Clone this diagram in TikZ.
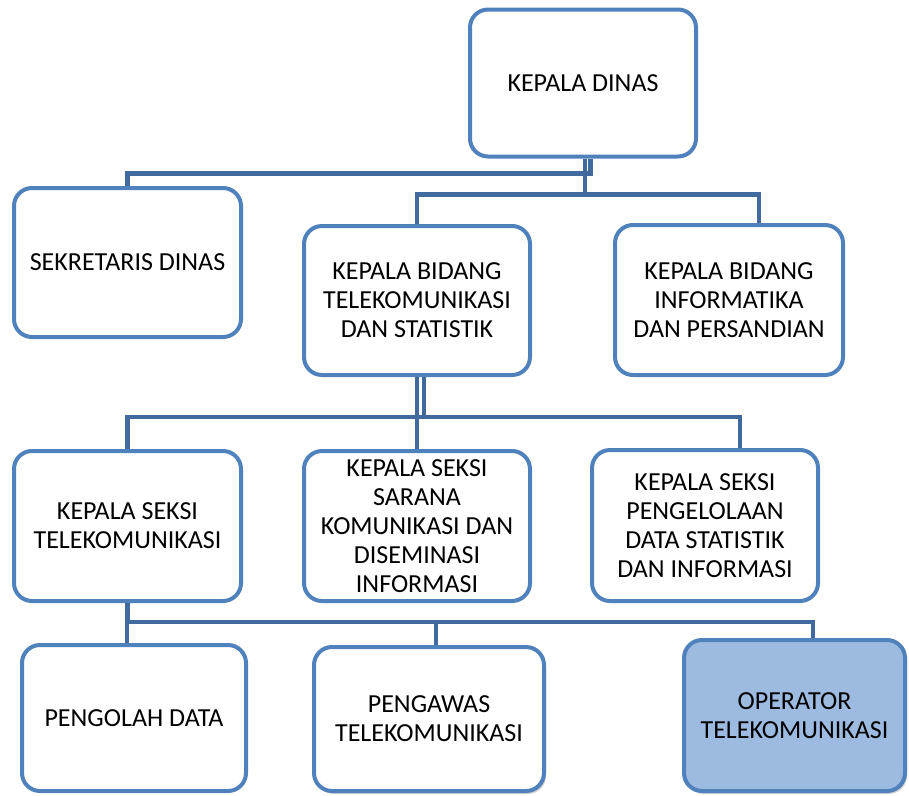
\documentclass[tikz,border=0pt]{standalone}
\usepackage{fontspec}
\setmainfont{Carlito}
\usetikzlibrary{shadows}
\definecolor{boxblue}{RGB}{79,129,189}
\definecolor{connblue}{RGB}{64,106,158}
\definecolor{opfill}{RGB}{157,187,225}
\tikzset{
  orgbox/.style={draw=boxblue, line width=4pt, rounded corners=18pt, fill=white,
    align=center, inner sep=0pt, text=black,
    font=\fontsize{26}{29}\selectfont},
  conn/.style={draw=connblue, line width=4.8pt, line join=miter},
  bevel/.style={drop shadow={opacity=0.35, shadow xshift=2pt, shadow yshift=-3pt}}
}
\begin{document}
\begin{tikzpicture}[x=1pt,y=-1pt]
\useasboundingbox (0,0) rectangle (909,795);

% row 1
\node[orgbox, minimum width=226pt, minimum height=147pt] (kd) at (583,83) {KEPALA DINAS};
% row 2
\node[orgbox, minimum width=227pt, minimum height=149pt] (sek) at (127.5,262.5) {SEKRETARIS DINAS};
\node[orgbox, minimum width=226pt, minimum height=149pt] (kbt) at (417,300.5) {KEPALA BIDANG\\TELEKOMUNIKASI\\DAN STATISTIK};
\node[orgbox, minimum width=228pt, minimum height=150pt] (kbi) at (729,300) {KEPALA BIDANG\\INFORMATIKA\\DAN PERSANDIAN};
% row 3
\node[orgbox, minimum width=227pt, minimum height=150pt] (kst) at (127.5,526) {KEPALA SEKSI\\TELEKOMUNIKASI};
\node[orgbox, minimum width=226pt, minimum height=150pt] (kss) at (417,526) {KEPALA SEKSI\\SARANA\\KOMUNIKASI DAN\\DISEMINASI\\INFORMASI};
\node[orgbox, minimum width=226pt, minimum height=151pt] (ksp) at (705,525.5) {KEPALA SEKSI\\PENGELOLAAN\\DATA STATISTIK\\DAN INFORMASI};
% row 4
\node[orgbox, minimum width=224pt, minimum height=146pt] (pd) at (134,718) {PENGOLAH DATA};
\node[orgbox, bevel, minimum width=230pt, minimum height=144pt] (pw) at (429,719) {PENGAWAS\\TELEKOMUNIKASI};
\node[orgbox, bevel, fill=opfill, minimum width=221pt, minimum height=151pt] (op) at (794.5,715.5) {OPERATOR\\TELEKOMUNIKASI};

% connectors
\draw[conn] ([xshift=7.5pt]kd.south) -- ++(0,15) -| (sek.north);
\draw[conn] ([xshift=2pt]kd.south) -- ++(0,36) -| (kbt.north);
\draw[conn] ([xshift=2pt]kd.south) -- ++(0,36) -| ([xshift=30pt]kbi.north);

\draw[conn] (kbt.south) -- (kss.north);
\draw[conn] ([xshift=7pt]kbt.south) -- ++(0,40) -| (kst.north);
\draw[conn] ([xshift=7pt]kbt.south) -- ++(0,40) -| ([xshift=35pt]ksp.north);

\draw[conn] (kst.south) -- ++(0,19) -| ([xshift=-7pt]pd.north);
\draw[conn] (kst.south) -- ++(0,19) -| ([xshift=7pt]pw.north);
\draw[conn] (kst.south) -- ++(0,19) -| ([xshift=18.5pt]op.north);
\end{tikzpicture}
\end{document}
